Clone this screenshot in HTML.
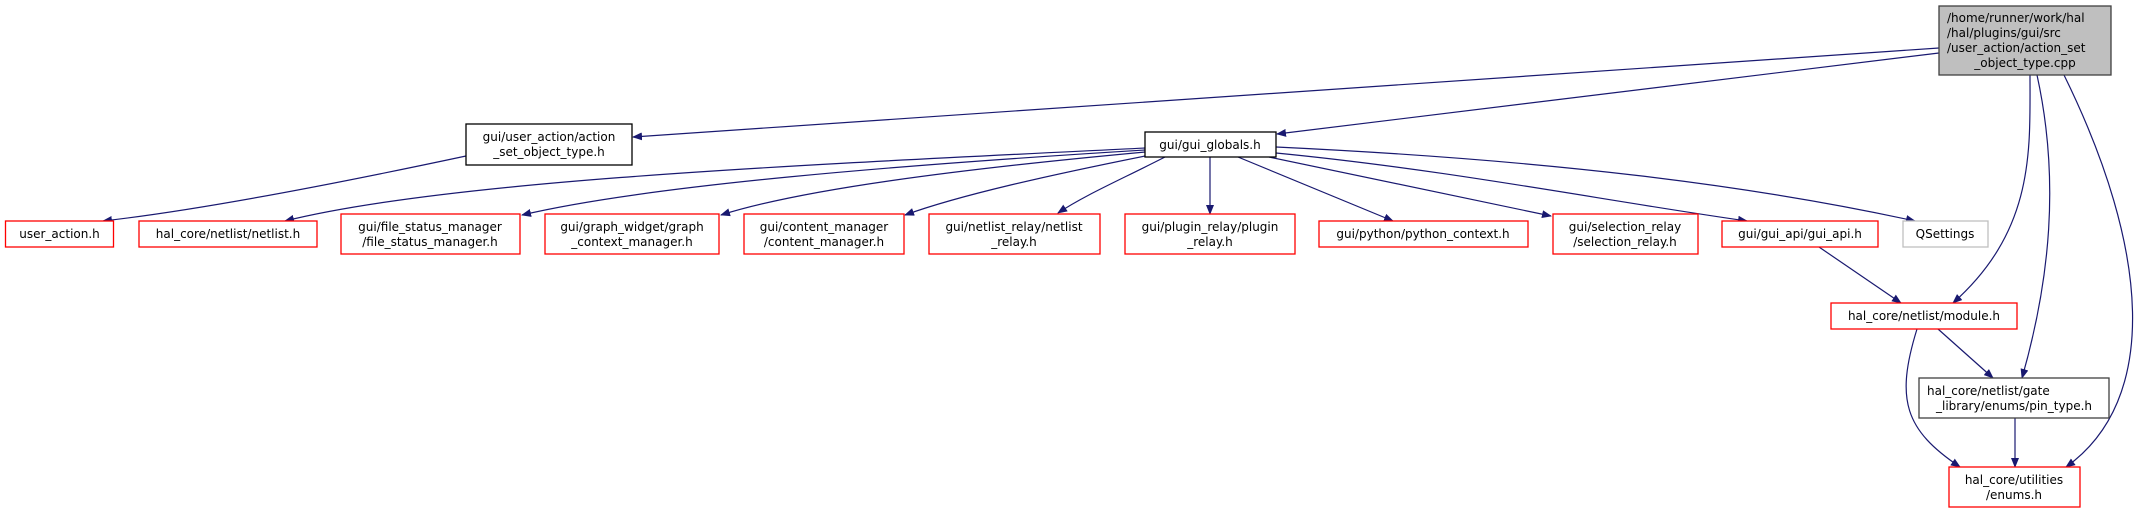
<!DOCTYPE html>
<html><head><meta charset="utf-8"><style>
html,body{margin:0;padding:0;background:#fff;}
svg{display:block;}
text{font-family:"DejaVu Sans","Liberation Sans",sans-serif;font-size:12px;fill:#000;}
</style></head><body>
<svg width="2154" height="513" viewBox="0 0 2154 513" xmlns="http://www.w3.org/2000/svg">
<defs>
<marker id="a" markerWidth="10" markerHeight="8" refX="9" refY="4" orient="auto" markerUnits="userSpaceOnUse">
<path d="M0,0 L10,4 L0,8 Z" fill="#191970"/>
</marker>
</defs>
<g fill="none" stroke="#191970" stroke-width="1.2" marker-end="url(#a)">
<path d="M1939,48 L633,137"/>
<path d="M1939,53 L1277,134"/>
<path d="M466,156 C330,185 200,210 103,221"/>
<path d="M1145,148 C800,165 450,180 285,221"/>
<path d="M1145,150 C900,165 650,185 522,215"/>
<path d="M1145,152 C950,170 800,190 721,215"/>
<path d="M1150,155 C1050,175 960,195 905,215"/>
<path d="M1165,157 C1120,180 1085,195 1058,213"/>
<path d="M1210,157 L1210,214"/>
<path d="M1238,157 L1393,221"/>
<path d="M1269,157 L1551,216"/>
<path d="M1276,153 C1450,170 1600,200 1747,221"/>
<path d="M1276,147 C1550,160 1750,185 1915,221"/>
<path d="M1819,247 L1901,303"/>
<path d="M2030,75 C2030,150 2035,230 1953,303"/>
<path d="M2037,75 C2060,180 2050,280 2022,378"/>
<path d="M2064,75 C2150,250 2160,400 2066,467"/>
<path d="M1938,329 L1993,378"/>
<path d="M1917,329 C1895,400 1905,430 1960,467"/>
<path d="M2015,418 L2015,467"/>
</g>
<g stroke-width="1.3">
<rect x="1939" y="6" width="172" height="69" fill="#bfbfbf" stroke="#404040"/>
<rect x="466" y="124" width="166" height="41" fill="#fff" stroke="#000"/>
<rect x="1145" y="132" width="131" height="25" fill="#fff" stroke="#000"/>
<rect x="5.5" y="221" width="108" height="26" fill="#fff" stroke="#f00"/>
<rect x="139" y="221" width="178" height="26" fill="#fff" stroke="#f00"/>
<rect x="341" y="214" width="179" height="40" fill="#fff" stroke="#f00"/>
<rect x="545" y="214" width="174" height="40" fill="#fff" stroke="#f00"/>
<rect x="744" y="214" width="160" height="40" fill="#fff" stroke="#f00"/>
<rect x="929" y="214" width="171" height="40" fill="#fff" stroke="#f00"/>
<rect x="1125" y="214" width="170" height="40" fill="#fff" stroke="#f00"/>
<rect x="1319" y="221" width="209" height="26" fill="#fff" stroke="#f00"/>
<rect x="1553" y="214" width="145" height="40" fill="#fff" stroke="#f00"/>
<rect x="1722" y="221" width="156" height="26" fill="#fff" stroke="#f00"/>
<rect x="1903" y="221" width="85" height="26" fill="#fff" stroke="#bfbfbf"/>
<rect x="1831" y="303" width="186" height="26" fill="#fff" stroke="#f00"/>
<rect x="1919" y="378" width="190" height="40" fill="#fff" stroke="#404040"/>
<rect x="1949" y="467" width="131" height="40" fill="#fff" stroke="#f00"/>
</g>
<g>
<text x="1947" y="22">/home/runner/work/hal</text>
<text x="1947" y="37">/hal/plugins/gui/src</text>
<text x="1947" y="52">/user_action/action_set</text>
<text x="2025" y="67" text-anchor="middle">_object_type.cpp</text>
<text x="549" y="141" text-anchor="middle">gui/user_action/action</text>
<text x="549" y="156" text-anchor="middle">_set_object_type.h</text>
<text x="1210" y="149" text-anchor="middle">gui/gui_globals.h</text>
<text x="59.5" y="238" text-anchor="middle">user_action.h</text>
<text x="228" y="238" text-anchor="middle">hal_core/netlist/netlist.h</text>
<text x="430" y="231" text-anchor="middle">gui/file_status_manager</text>
<text x="430" y="246" text-anchor="middle">/file_status_manager.h</text>
<text x="632" y="231" text-anchor="middle">gui/graph_widget/graph</text>
<text x="632" y="246" text-anchor="middle">_context_manager.h</text>
<text x="824" y="231" text-anchor="middle">gui/content_manager</text>
<text x="824" y="246" text-anchor="middle">/content_manager.h</text>
<text x="1014" y="231" text-anchor="middle">gui/netlist_relay/netlist</text>
<text x="1014" y="246" text-anchor="middle">_relay.h</text>
<text x="1210" y="231" text-anchor="middle">gui/plugin_relay/plugin</text>
<text x="1210" y="246" text-anchor="middle">_relay.h</text>
<text x="1423" y="238" text-anchor="middle">gui/python/python_context.h</text>
<text x="1625" y="231" text-anchor="middle">gui/selection_relay</text>
<text x="1625" y="246" text-anchor="middle">/selection_relay.h</text>
<text x="1800" y="238" text-anchor="middle">gui/gui_api/gui_api.h</text>
<text x="1945" y="238" text-anchor="middle">QSettings</text>
<text x="1924" y="320" text-anchor="middle">hal_core/netlist/module.h</text>
<text x="1927" y="395">hal_core/netlist/gate</text>
<text x="2014" y="410" text-anchor="middle">_library/enums/pin_type.h</text>
<text x="2014" y="484" text-anchor="middle">hal_core/utilities</text>
<text x="2014" y="499" text-anchor="middle">/enums.h</text>
</g>
</svg>
</body></html>
